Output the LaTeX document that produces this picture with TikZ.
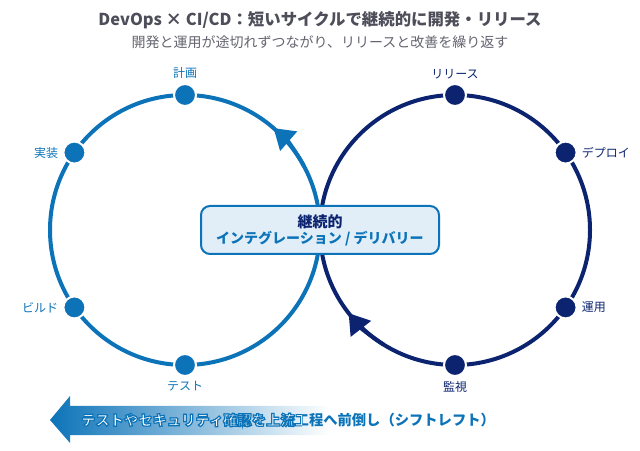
\documentclass[tikz,border=0pt]{standalone}
\usepackage{fontspec}
\setmainfont{Noto Sans CJK JP}
\usetikzlibrary{arrows.meta,calc,positioning}
\definecolor{CiBlue}{RGB}{12,115,184}
\definecolor{CdNavy}{RGB}{12,36,112}
\definecolor{BoxFill}{RGB}{225,238,247}
\definecolor{TitleGray}{RGB}{78,78,90}
\definecolor{SubGray}{RGB}{100,100,112}
\newcommand{\shifttxt}{テストやセキュリティ確認を上流工程へ前倒し（シフトレフト）}
\newcommand{\outlined}[1]{\special{pdf:literal direct 0.047 0.451 0.722 RG 2 Tr 1.2 w}#1\special{pdf:literal direct 0 Tr}}

\begin{document}
\begin{tikzpicture}[x=1pt,y=1pt,
  ring/.style={line width=4pt},
  stage/.style={circle,fill=#1,draw=white,line width=2pt,minimum size=22pt,inner sep=0pt},
  lbl/.style={text=#1,font=\fontsize{12}{14}\selectfont,inner sep=1pt},
  shiftlbl/.style={font=\fontsize{14.3}{16}\selectfont\bfseries,inner sep=0pt}]
\useasboundingbox (0,0) rectangle (640,450);
\coordinate (cL) at (185,220);
\coordinate (cR) at (455,220);
\node[text=TitleGray,font=\fontsize{16.4}{18}\selectfont\bfseries] (title) at (320,430) {DevOps × CI/CD：短いサイクルで継続的に開発・リリース};
\node[text=SubGray,font=\fontsize{14}{16}\selectfont] (sub) at (320,408) {開発と運用が途切れずつながり、リリースと改善を繰り返す};
\draw[ring,CiBlue] (cL) circle[radius=135];
\draw[ring,CdNavy] (cR) circle[radius=135];
\draw[ring,CiBlue,-{Triangle[length=20pt,width=25pt]}] ($(cL)+(28:135)$) arc[start angle=28,end angle=49,radius=135];
\draw[ring,CdNavy,-{Triangle[length=20pt,width=25pt]}] ($(cR)+(238:135)$) arc[start angle=238,end angle=218,radius=135];
\node[draw=CiBlue,line width=2pt,fill=BoxFill,rounded corners=9pt,minimum width=238pt,minimum height=48pt,align=center] (ci) at (320,220)
  {{\fontsize{15}{19}\selectfont\bfseries\color{CdNavy}継続的}\\[1pt]{\fontsize{14}{16}\selectfont\bfseries\color{CiBlue}インテグレーション / デリバリー}};
\foreach \n/\a/\t/\p in {plan/90/計画/above,impl/145/実装/left,build/215/ビルド/left,test/270/テスト/below}{
  \node[stage=CiBlue] (\n) at ($(cL)+(\a:135)$) {};
  \node[lbl=CiBlue,\p=3pt of \n] (\n-l) {\t};}
\foreach \n/\a/\t/\p in {rel/90/リリース/above,deploy/35/デプロイ/right,ops/-35/運用/right,mon/270/監視/below}{
  \node[stage=CdNavy] (\n) at ($(cR)+(\a:135)$) {};
  \node[lbl=CdNavy,\p=3pt of \n] (\n-l) {\t};}
\shade[left color=CiBlue,right color=white] (50,30) -- (70,54) -- (70,44) -- (330,44) -- (330,15) -- (70,15) -- (70,7) -- cycle;
\node[shiftlbl,text=CiBlue] (shift) at (288,30) {\shifttxt};
\begin{scope}
\clip (40,0) rectangle (302,60);
\node[shiftlbl,text=white] at (shift.center) {\outlined{\shifttxt}};
\end{scope}
\end{tikzpicture}
\end{document}
